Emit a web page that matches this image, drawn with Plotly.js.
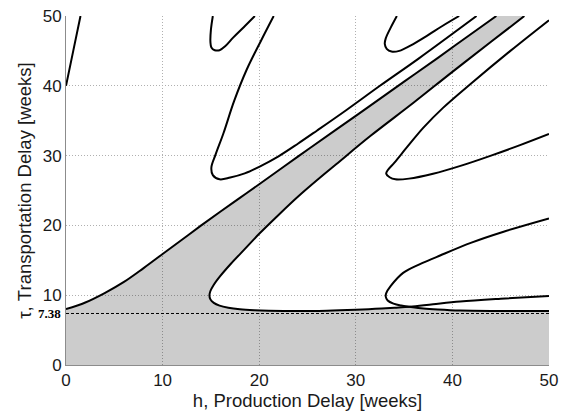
<!DOCTYPE html>
<html>
<head>
<meta charset="utf-8">
<script src="https://cdn.plot.ly/plotly-3.0.1.min.js"></script>
<style>html,body{margin:0;padding:0;background:#fff;}#chart{width:567px;height:412px;}</style>
</head>
<body>
<div id="chart"></div>
<script>
// ---- data (h = production delay, tau = transportation delay) ----
const tickValues = [0, 10, 20, 30, 40, 50];
const tauMin = 7.38;
const tauMinH = [0, 50];

// small branch at top-left
const curve1H   = [0, 0.75, 1.5];
const curve1Tau = [40, 45, 50];

// upper edge of the shaded band
const bandUpperH   = [0, 2, 4, 6, 8, 10, 12, 14, 16, 18, 20, 24, 28, 31.5, 35, 38.5, 41.5, 44.55];
const bandUpperTau = [8.0, 8.95, 10.3, 11.9, 13.85, 15.9, 17.95, 20.0, 22.0, 23.95, 25.9, 29.85, 33.75, 37.15, 40.6, 44.0, 47.0, 50];

// lower edge of the shaded band, down around the nose to the crossing point
const bandLowerH   = [47.45, 44, 40, 36, 31.5, 28, 26, 24, 22, 20, 18.5, 17, 16, 15.3, 14.95, 14.85, 14.95, 15.3, 15.9, 16.8, 18, 19.5, 21, 24, 27, 30, 32, 34, 35.6];
const bandLowerTau = [50, 46.3, 42.0, 37.6, 32.8, 28.8, 26.5, 24.1, 21.5, 18.8, 16.6, 14.4, 12.8, 11.5, 10.6, 10.0, 9.4, 8.9, 8.5, 8.2, 7.98, 7.84, 7.77, 7.72, 7.78, 7.92, 8.05, 8.2, 8.34];

// continuation of that curve after the crossing
const curveATailH   = [35.6, 38, 40.8, 45, 50];
const curveATailTau = [8.34, 8.7, 9.1, 9.5, 9.9];

// second nose near h = 33, tau = 10 (upper branch down to the crossing)
const curveGH   = [50, 45.3, 41.9, 38.4, 36.7, 34.9, 33.6, 33.15, 33.1, 33.3, 33.9, 34.7, 35.6];
const curveGTau = [21.0, 19.1, 17.5, 15.5, 14.5, 13.2, 11.3, 10.3, 9.8, 9.25, 8.8, 8.52, 8.34];
const curveGTailH   = [35.6, 37, 38.5, 40.8, 45, 50];
const curveGTailTau = [8.34, 8.1, 7.95, 7.8, 7.74, 7.72];

// closed-ish curves at the top
const curveCH   = [15.2, 15.0, 14.95, 15.05, 15.4, 15.9, 16.5, 17.3, 18.4, 19.55];
const curveCTau = [50, 48, 46.3, 45.5, 45.1, 45.1, 45.7, 46.9, 48.4, 50];

const curveDH   = [21.5, 20.2, 18.7, 17.4, 16.3, 15.5, 15.05, 15.2, 15.9, 17.0, 18.5, 20, 22, 24, 26, 29, 32.5, 36.5, 42.5];
const curveDTau = [50, 46.5, 42.3, 37.8, 33.2, 30.2, 28.3, 27.2, 26.6, 26.85, 27.45, 28.4, 29.9, 31.7, 33.6, 36.5, 40.0, 43.9, 50];

const curveEH   = [34.25, 33.6, 33.1, 33.0, 33.2, 33.7, 34.5, 35.7, 37.4, 39.0, 40.7];
const curveETau = [50, 48.3, 46.8, 46.0, 45.3, 44.9, 45.0, 45.8, 47.2, 48.6, 50];

const curveFH   = [50, 46, 42, 39, 37, 35.3, 34, 33.3, 33.15, 33.5, 34.1, 35.5, 38, 41, 44, 47, 50];
const curveFTau = [49.4, 45.0, 40.4, 36.8, 34.0, 31.2, 29.0, 27.9, 27.4, 26.9, 26.6, 26.7, 27.4, 28.6, 30.0, 31.5, 33.1];

// ---- traces ----
const fillX = [0].concat(bandUpperH, bandLowerH, curveGTailH, [50]);
const fillY = [0].concat(bandUpperTau, bandLowerTau, curveGTailTau, [0]);

function curve(x, y) {
  return {x: x, y: y, type: 'scatter', mode: 'lines', hoverinfo: 'skip',
          line: {color: '#000', width: 2, shape: 'spline', smoothing: 1}};
}

const traces = [
  {x: fillX, y: fillY, type: 'scatter', mode: 'lines', fill: 'toself',
   fillcolor: 'rgba(0,0,0,0.2)', line: {width: 0, color: 'rgba(0,0,0,0)'}, hoverinfo: 'skip'},
  {x: tauMinH, y: [tauMin, tauMin], type: 'scatter', mode: 'lines', hoverinfo: 'skip',
   line: {color: '#000', width: 1, dash: '3px,2px'}},
  curve(curve1H, curve1Tau),
  curve(bandUpperH, bandUpperTau),
  curve(bandLowerH.concat(curveATailH.slice(1)), bandLowerTau.concat(curveATailTau.slice(1))),
  curve(curveGH.concat(curveGTailH.slice(1)), curveGTau.concat(curveGTailTau.slice(1))),
  curve(curveCH, curveCTau),
  curve(curveDH, curveDTau),
  curve(curveEH, curveETau),
  curve(curveFH, curveFTau)
];

const tickFont = {family: 'Liberation Sans, Arial, sans-serif', size: 17, color: '#1a1a1a'};
const titleFont = {family: 'Liberation Sans, Arial, sans-serif', size: 18.5, color: '#1a1a1a'};

const layout = {
  width: 567, height: 412,
  margin: {l: 66, r: 18, t: 16, b: 47},
  paper_bgcolor: '#fff', plot_bgcolor: '#fff',
  showlegend: false,
  font: tickFont,
  xaxis: {
    range: [0, 50], tickvals: tickValues, ticktext: tickValues.map(String),
    showgrid: true, gridcolor: '#b0b0b0', griddash: '1px,2px', gridwidth: 1,
    zeroline: false, showline: true, linecolor: '#8c8c8c', linewidth: 1,
    ticks: '', tickfont: tickFont,
    title: {text: 'h, Production Delay [weeks]', font: titleFont, standoff: 4}
  },
  yaxis: {
    range: [0, 50], tickvals: tickValues, ticktext: tickValues.map(String),
    showgrid: true, gridcolor: '#b0b0b0', griddash: '1px,2px', gridwidth: 1,
    zeroline: false, showline: true, linecolor: '#8c8c8c', linewidth: 1,
    ticks: '', tickfont: tickFont,
    title: {text: 'τ, Transportation Delay [weeks]', font: titleFont, standoff: 6}
  },
  annotations: [{
    xref: 'paper', yref: 'y', x: 0, y: tauMin, xanchor: 'right', yanchor: 'middle',
    xshift: -3, showarrow: false, text: '<b>7.38</b>',
    font: {family: 'Liberation Serif, Times New Roman, serif', size: 13, color: '#000'}
  }]
};

Plotly.newPlot('chart', traces, layout, {displayModeBar: false, staticPlot: true});
</script>
</body>
</html>
